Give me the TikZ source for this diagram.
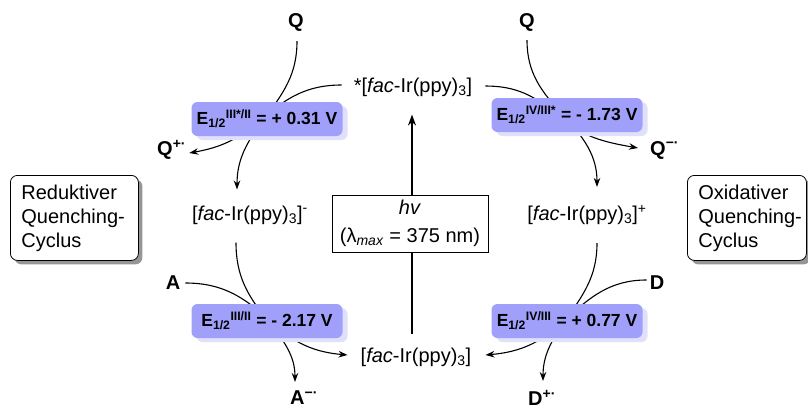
\documentclass[tikz,border=0pt]{standalone}
\usepackage{fontspec}
\setmainfont{Liberation Sans}
\usetikzlibrary{arrows.meta,shadows,calc}
\definecolor{eblue}{RGB}{160,160,250}
\definecolor{eshadow}{RGB}{224,224,250}
\definecolor{gshadow}{RGB}{150,150,150}
\pgfdeclarelayer{bg}
\pgfsetlayers{bg,main}
\begin{document}
\begin{tikzpicture}[x=1pt,y=-1pt,
  chem/.style={inner sep=0pt, font=\fontsize{20}{24}\selectfont},
  spec/.style={inner sep=0pt, font=\bfseries\fontsize{20}{24}\selectfont},
  ebox/.style={fill=eblue, rounded corners=6pt, minimum width=151pt, minimum height=34pt,
    inner sep=0pt, font=\bfseries\fontsize{17.5}{20}\selectfont,
    drop shadow={shadow xshift=5pt, shadow yshift=-4pt, fill=eshadow, opacity=1}},
  sidebox/.style={draw, line width=0.8pt, rounded corners=7pt, fill=white, align=left,
    minimum height=85pt, inner xsep=11pt, font=\fontsize{20}{24}\selectfont,
    drop shadow={shadow xshift=4pt, shadow yshift=-4pt, fill=gshadow, opacity=1}},
  hvbox/.style={draw, line width=1pt, fill=white, align=center, minimum width=156pt,
    minimum height=57pt, inner sep=0pt, font=\fontsize{20}{28}\selectfont},
  cv/.style={line width=1.1pt, -{Stealth[length=9pt,width=6.5pt]}},
  varrow/.style={line width=2pt, -{Stealth[length=11pt,width=8pt]}}
]
\useasboundingbox (0,0) rectangle (808,410);

% complexes
\node[chem] (top)  at (413,87)  {*[\textit{fac}-Ir(ppy)\textsubscript{3}]};
\node[chem] (midL) at (250,215) {[\textit{fac}-Ir(ppy)\textsubscript{3}]\textsuperscript{-}};
\node[chem] (midR) at (587,215) {[\textit{fac}-Ir(ppy)\textsubscript{3}]\textsuperscript{+}};
\node[chem] (bot)  at (416,357) {[\textit{fac}-Ir(ppy)\textsubscript{3}]};

% species
\node[spec] (Q1) at (296,22) {Q};
\node[spec] (Q2) at (527,22) {Q};
\node[spec, anchor=west] (Qp) at (157,150) {Q\textsuperscript{+·}};
\node[spec, anchor=west] (Qm) at (650,150) {Q\textsuperscript{−·}};
\node[spec] (A) at (173,283) {A};
\node[spec, anchor=west] (Am) at (290,398) {A\textsuperscript{−·}};
\node[spec] (D) at (657,283) {D};
\node[spec, anchor=west] (Dp) at (528,398) {D\textsuperscript{+·}};

% potential boxes
\node[ebox] (E1) at (267,119) {E\textsubscript{1/2}\textsuperscript{III*/II} = + 0.31 V};
\node[ebox] (E2) at (567,115) {E\textsubscript{1/2}\textsuperscript{IV/III*} = - 1.73 V};
\node[ebox] (E3) at (267,321) {E\textsubscript{1/2}\textsuperscript{III/II} = - 2.17 V};
\node[ebox] (E4) at (567,321) {E\textsubscript{1/2}\textsuperscript{IV/III} = + 0.77 V};

% side boxes
\node[sidebox, text width=106pt, anchor=north west] (red) at (10,175) {Reduktiver\\\mbox{Quenching-}\\Cyclus};
\node[sidebox, text width=97pt, anchor=north west] (ox) at (687,175) {Oxidativer\\\mbox{Quenching-}\\Cyclus};

% light box
\node[hvbox] (hv) at (410,223.5) {\textit{hv}\\(λ\textsubscript{\textit{max}} = 375 nm)};

\begin{pgfonlayer}{bg}
  \draw[varrow] ($(top.south |- bot.north)+(-1,-13)$) -- ($(top.south)+(-1,18)$);
  % upper left
  \draw[cv] ($(Q1.south)+(1,10)$) to[out=270,in=53] ($(E1.center)+(-3,0)$)
            to[out=233,in=90] ($(midL.north)+(-13,-16)$);
  \draw[cv] ($(top.west)+(-12,-2)$) to[out=180,in=41] ($(E1.center)+(-5,0)$)
            to[out=221,in=10] ($(Qp.east)+(3,3)$);
  % upper right
  \draw[cv] ($(Q2.south)+(0,9)$) to[out=270,in=133] ($(E2.center)+(-4,0)$)
            to[out=313,in=90] ($(midR.north)+(10,-18)$);
  \draw[cv] ($(top.east)+(13,-1)$) to[out=0,in=139] ($(E2.center)+(-10,0)$)
            to[out=319,in=170] ($(Qm.west)+(-12,-2)$);
  % lower left
  \draw[cv] ($(midL.south)+(-14,18)$) to[out=270,in=129] ($(E3.center)+(1,0)$)
            to[out=309,in=90] ($(Am.west)+(5,-16)$);
  \draw[cv] ($(A.east)+(5,0)$) to[out=0,in=137] ($(E3.center)+(3,0)$)
            to[out=317,in=175] ($(bot.west)+(-13,-2)$);
  % lower right
  \draw[cv] ($(midR.south)+(10,18)$) to[out=270,in=55] ($(E4.center)+(-2,0)$)
            to[out=235,in=90] ($(Dp.west)+(15,-17)$);
  \draw[cv] ($(D.west)+(-3,-3)$) to[out=180,in=43] ($(E4.center)+(-3,0)$)
            to[out=223,in=5] ($(bot.east)+(14,-2)$);
\end{pgfonlayer}
\end{tikzpicture}
\end{document}
